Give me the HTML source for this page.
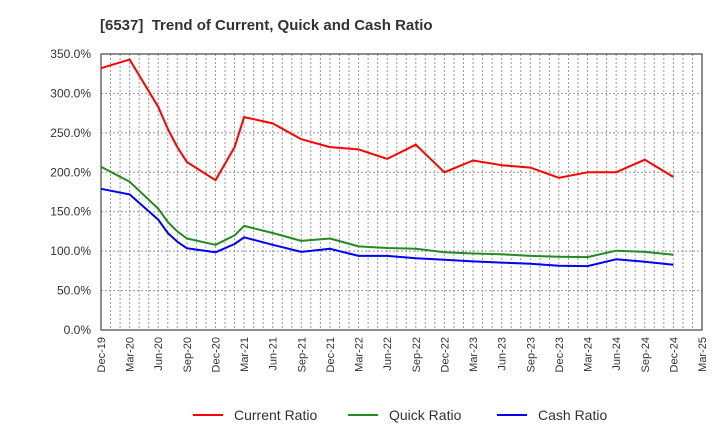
<!DOCTYPE html>
<html><head><meta charset="utf-8"><style>
body{margin:0;background:#fff;}
svg text{font-family:"Liberation Sans",Arial,sans-serif;fill:#333;}
</style></head><body>
<svg width="720" height="440" viewBox="0 0 720 440">
<text x="100" y="30" font-size="15" font-weight="bold" xml:space="preserve">[6537]  Trend of Current, Quick and Cash Ratio</text>
<g id="grid"></g>
<g id="axes"></g>
<g id="series"></g>
<g id="legend"></g>
</svg>
<script>
const tickLabels=["Dec-19","Mar-20","Jun-20","Sep-20","Dec-20","Mar-21","Jun-21","Sep-21","Dec-21","Mar-22","Jun-22","Sep-22","Dec-22","Mar-23","Jun-23","Sep-23","Dec-23","Mar-24","Jun-24","Sep-24","Dec-24","Mar-25"];
const yTicks=[0,50,100,150,200,250,300,350];
const months=[0,3,6,7,8,9,12,14,15,18,21,24,27,30,33,36,39,42,45,48,51,54,57,60];
const currentRatio=[332,343,283,255,232,213,190,232,270,262,242,232,229,217,235,200,215,209,206,193,200,200,216,194];
const quickRatio=[207,188,154,137,125,116,108,120,132,123,113,116,106,104,103,98.5,97,96,94,93,92.5,100.6,99,95.5];
const cashRatio=[179,172,140,123,112,103.6,98.5,109,117.5,108,99,103,94,94,91,89,87,85.5,84,81.5,81,89.6,86.6,82.8];

const NS="http://www.w3.org/2000/svg";
const L=101,R=702,T=54,B=330,NM=63;
const x=m=>L+(R-L)*m/NM;
const y=v=>B-(B-T)*v/350;
function mk(tag,attrs,parent){const e=document.createElementNS(NS,tag);for(const k in attrs)e.setAttribute(k,attrs[k]);parent.appendChild(e);return e;}
const grid=document.getElementById('grid'),axes=document.getElementById('axes'),ser=document.getElementById('series'),leg=document.getElementById('legend');
for(let m=1;m<NM;m++){
  const g=mk('line',{x1:x(m),x2:x(m),y1:T,y2:B,stroke:'#999','stroke-dasharray':'2,2','stroke-width':1},grid);
  
  
}
yTicks.forEach(v=>{
  if(v>0&&v<350){const g=mk('line',{x1:L,x2:R,y1:y(v),y2:y(v),stroke:'#999','stroke-dasharray':'2,2','stroke-width':1},grid);
  
  }
  const t=mk('text',{x:91,y:y(v)+4,'font-size':12,'text-anchor':'end'},axes);
  t.textContent=v.toFixed(1)+'%';
  
  
});
tickLabels.forEach((lab,i)=>{
  const xx=x(i*3);
  const t=mk('text',{x:0,y:0,'font-size':11,'text-anchor':'end',transform:`translate(${xx+4},${B+7}) rotate(-90)`},axes);
  t.textContent=lab;
  
  
});
const frame=mk('rect',{x:L,y:T,width:R-L,height:B-T,fill:'none',stroke:'#444','stroke-width':1.2},axes);


const series=[["current-ratio-line",currentRatio,"#ff0000"],["quick-ratio-line",quickRatio,"#228b22"],["cash-ratio-line",cashRatio,"#0000ff"]];
series.forEach(([name,vals,col])=>{
  const pts=vals.map((v,i)=>x(months[i]).toFixed(1)+','+y(v).toFixed(1)).join(' ');
  const p=mk('polyline',{points:pts,fill:'none',stroke:col,'stroke-width':2,'stroke-linejoin':'round'},ser);
  
  
});
const legendItems=[["Current Ratio","#ff0000",193],["Quick Ratio","#228b22",348],["Cash Ratio","#0000ff",497]];
legendItems.forEach(([lab,col,lx])=>{
  const l=mk('line',{x1:lx,x2:lx+30,y1:415,y2:415,stroke:col,'stroke-width':2},leg);
  
  
  const t=mk('text',{x:lx+41,y:420,'font-size':14},leg);
  t.textContent=lab;
  
  
});
</script>
</body></html>
